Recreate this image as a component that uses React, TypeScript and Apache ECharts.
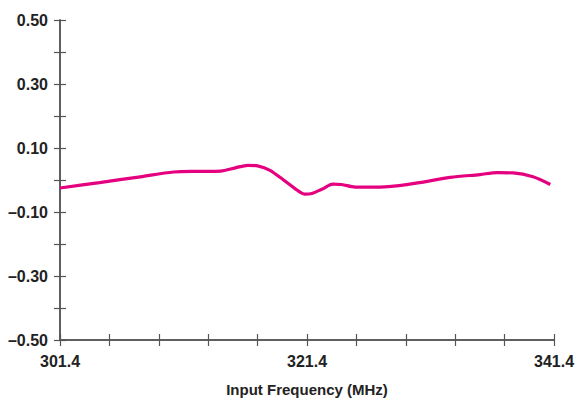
import React, { useEffect, useRef } from 'react';
import * as echarts from 'echarts';

const frequencies = [301.4, 304.6, 307.9, 310.6, 312.7, 314.4, 315.6, 316.6, 317.4, 318.4, 319.5, 320.4, 321.2, 321.8, 322.6, 323.5, 324.2, 325.3, 327.3, 329.7, 333.0, 335.4, 336.8, 338.1, 339.7, 341.1];
const offsets = [-0.025, -0.008, 0.01, 0.025, 0.027, 0.028, 0.038, 0.046, 0.044, 0.03, 0.0, -0.026, -0.044, -0.042, -0.029, -0.013, -0.014, -0.022, -0.022, -0.013, 0.008, 0.017, 0.023, 0.022, 0.01, -0.014];

const xStart = 301.4;
const xEnd = 341.4;
const xTickStep = 4;
const xLabelValues = [301.4, 321.4, 341.4];
const yMin = -0.5;
const yMax = 0.5;
const yTickStep = 0.1;
const yLabelValues = [-0.5, -0.3, -0.1, 0.1, 0.3, 0.5];

const FONT = '"Liberation Sans", Arial, sans-serif';
const AXIS_COLOR = '#555555';
const TEXT_COLOR = '#222222';

export default function App() {
  const ref = useRef<HTMLDivElement>(null);
  useEffect(() => {
    if (!ref.current) return;
    const chart = echarts.init(ref.current, undefined, { renderer: 'svg' });
    const gridBox = { left: 60, right: 22, top: 20, bottom: 60, containLabel: false, outerBoundsMode: 'none' };
    const xLabel = (v: number) => {
      const f = v + xStart;
      return xLabelValues.some((l) => Math.abs(l - f) < 1e-6) ? f.toFixed(1) : '';
    };
    const yLabel = (v: number) => {
      return yLabelValues.some((l) => Math.abs(l - v) < 1e-6) ? v.toFixed(2).replace('-', '\u2013') : '';
    };
    const axisLine = { show: true, onZero: false, lineStyle: { color: AXIS_COLOR, width: 1.5 } };
    const tickStyle = { color: AXIS_COLOR, width: 1.2 };
    const xBase = {
      type: 'value' as const,
      min: 0,
      max: xEnd - xStart,
      interval: xTickStep,
      splitLine: { show: false },
      axisLine,
    };
    const yBase = {
      type: 'value' as const,
      min: yMin,
      max: yMax,
      interval: yTickStep,
      splitLine: { show: false },
      axisLine,
    };
    chart.setOption({
      animation: false,
      backgroundColor: '#ffffff',
      grid: [
        { ...gridBox },
        { ...gridBox },
      ],
      xAxis: [
        {
          ...xBase,
          gridIndex: 0,
          axisTick: { show: true, length: 6, inside: false, lineStyle: tickStyle },
          axisLabel: {
            formatter: xLabel,
            margin: 13,
            color: TEXT_COLOR,
            fontFamily: FONT,
            fontWeight: 'bold',
            fontSize: 16,
            showMinLabel: true,
            showMaxLabel: true,
          },
          name: 'Input Frequency (MHz)',
          nameLocation: 'middle',
          nameGap: 42,
          nameTextStyle: { color: TEXT_COLOR, fontFamily: FONT, fontWeight: 'bold', fontSize: 15 },
        },
        {
          ...xBase,
          gridIndex: 1,
          axisTick: { show: true, length: 6, inside: true, lineStyle: tickStyle },
          axisLabel: { show: false },
        },
      ],
      yAxis: [
        {
          ...yBase,
          gridIndex: 0,
          axisTick: { show: true, length: 6, inside: false, lineStyle: tickStyle },
          axisLabel: {
            formatter: yLabel,
            margin: 12,
            color: TEXT_COLOR,
            fontFamily: FONT,
            fontWeight: 'bold',
            fontSize: 16,
            showMinLabel: true,
            showMaxLabel: true,
          },
        },
        {
          ...yBase,
          gridIndex: 1,
          axisTick: { show: true, length: 6, inside: true, lineStyle: tickStyle },
          axisLabel: { show: false },
        },
      ],
      series: [
        {
          type: 'line',
          xAxisIndex: 0,
          yAxisIndex: 0,
          data: frequencies.map((f, i) => [+(f - xStart).toFixed(3), offsets[i]]),
          smooth: 0.3,
          showSymbol: false,
          lineStyle: { color: '#E4007F', width: 3.2 },
        },
      ],
    });
    return () => chart.dispose();
  }, []);
  return <div ref={ref} style={{ position: 'fixed', left: 0, top: 0, width: 576, height: 400 }} />;
}
